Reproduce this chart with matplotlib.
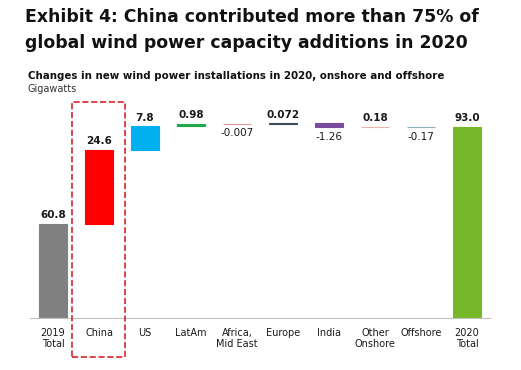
import matplotlib.pyplot as plt
from matplotlib.patches import Rectangle
import numpy as np

plt.rcParams['font.family'] = ['DejaVu Sans']

categories = ['2019\nTotal', 'China', 'US', 'LatAm', 'Africa,\nMid East', 'Europe',
              'India', 'Other\nOnshore', 'Offshore', '2020\nTotal']
values = [60.8, 24.6, 7.8, 0.98, -0.007, 0.072, -1.26, 0.18, -0.17, 93.0]
labels = ['60.8', '24.6', '7.8', '0.98', '-0.007', '0.072', '-1.26', '0.18', '-0.17', '93.0']
is_total = [True, False, False, False, False, False, False, False, False, True]
colours = ['#808080', '#ff0000', '#00b0f0', '#22a84a', '#e89a9a', '#404a55',
           '#7b4c9c', '#f2b2aa', '#8fb0c0', '#76b82a']

# waterfall bottoms
bottoms = []
heights = []
running = 0.0
for v, tot in zip(values, is_total):
    if tot:
        bottoms.append(0.0)
        heights.append(v)
        running = v
    else:
        bottoms.append(running if v >= 0 else running + v)
        heights.append(abs(v))
        running += v

fig = plt.figure(figsize=(5.21, 3.70), dpi=100)
ax = fig.add_axes([0.0576, 0.1405, 0.8829, 0.573])
x = np.arange(len(categories))
ax.bar(x, heights, bottom=bottoms, width=0.62, color=colours,
       edgecolor=colours, linewidth=0.8)
ax.set_xlim(-0.5, len(categories) - 0.5)
ax.set_ylim(29.6, 100)

for i, v in enumerate(values):
    if v >= 0:
        ax.text(x[i], bottoms[i] + heights[i] + 1.2, labels[i], ha='center', va='bottom',
                fontsize=7.5, fontweight='bold', color='#1a1a1a')
    else:
        ax.text(x[i], bottoms[i] - 1.5, labels[i], ha='center', va='top',
                fontsize=7.5, color='#1a1a1a')

for s in ['top', 'right', 'left']:
    ax.spines[s].set_visible(False)
ax.spines['bottom'].set_color('#bfbfbf')
ax.set_yticks([])
ax.set_xticks(x)
ax.set_xticklabels(categories, fontsize=7, color='#1a1a1a', linespacing=1.1)
ax.tick_params(axis='x', length=0, pad=7)

# dashed highlight around China
fig.patches.append(Rectangle((72 / 521, 1 - 357 / 370), 53 / 521, 255 / 370,
                             transform=fig.transFigure, fill=False,
                             edgecolor='#d6262b', linestyle='--', linewidth=1.2))

fig.text(25 / 521, 1 - 8 / 370, 'Exhibit 4: China contributed more than 75% of',
         ha='left', va='top', fontsize=12.4, fontweight='bold', color='#111111')
fig.text(25 / 521, 1 - 34 / 370, 'global wind power capacity additions in 2020',
         ha='left', va='top', fontsize=12.4, fontweight='bold', color='#111111')
fig.text(28 / 521, 1 - 71 / 370, 'Changes in new wind power installations in 2020, onshore and offshore',
         ha='left', va='top', fontsize=7.4, fontweight='bold', color='#111111')
fig.text(28 / 521, 1 - 84 / 370, 'Gigawatts', ha='left', va='top', fontsize=7, color='#333333')

fig.savefig('out.png', dpi=100)
